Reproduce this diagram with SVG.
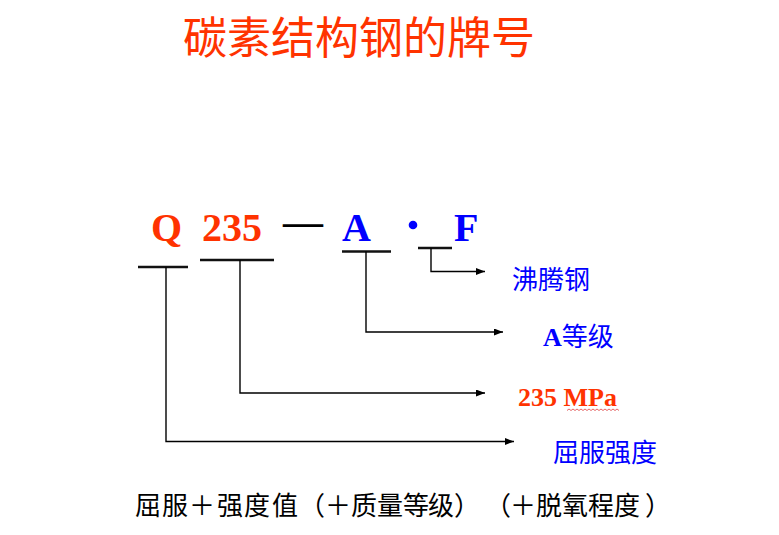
<svg xmlns="http://www.w3.org/2000/svg" width="779" height="535" viewBox="0 0 779 535">
  <defs>
    <marker id="arrow" markerUnits="userSpaceOnUse" markerWidth="9" markerHeight="7" refX="9" refY="3.5" orient="auto">
      <path d="M0,0 L9,3.5 L0,7 z" fill="#000"/>
    </marker>
    <style>
      .cjk { font-family: "Noto Sans CJK SC", "Noto Sans", sans-serif; }
      .ser { font-family: "Liberation Serif", "Noto Sans CJK SC", serif; font-weight: bold; }
      .red { fill: #FF3300; }
      .blue { fill: #0000FF; }
      .bar { stroke: #111; stroke-width: 2.6; fill: none; }
      .conn { stroke: #000; stroke-width: 1.4; fill: none; marker-end: url(#arrow); }
      .f { font-size: 26px; fill: #000; }
    </style>
  </defs>
  <rect width="779" height="535" fill="#fff"/>

  <g id="title">
    <text class="cjk red" x="183" y="54" font-size="44" textLength="352" lengthAdjust="spacing">碳素结构钢的牌号</text>
  </g>

  <g id="code">
    <text class="ser red" x="151" y="241" font-size="40">Q</text>
    <text class="ser red" x="202" y="241" font-size="40">235</text>
    <text class="ser" x="283" y="235" font-size="40" fill="#000">—</text>
    <text class="ser blue" x="342" y="241" font-size="40">A</text>
    <circle cx="413" cy="225" r="4.3" fill="#0000FF"/>
    <text class="ser blue" x="454" y="241" font-size="40">F</text>
  </g>

  <g id="bars">
    <line class="bar" x1="138" y1="267" x2="188" y2="267"/>
    <line class="bar" x1="200" y1="260" x2="274" y2="260"/>
    <line class="bar" x1="342" y1="251.5" x2="391" y2="251.5"/>
    <line class="bar" x1="418" y1="248" x2="452" y2="248"/>
  </g>

  <g id="connectors">
    <path class="conn" d="M431,248 V271.5 H485"/>
    <path class="conn" d="M366,251.5 V332 H503"/>
    <path class="conn" d="M240,260 V393 H485"/>
    <path class="conn" d="M166,267 V441.5 H514"/>
  </g>

  <g id="label-boiling">
    <text class="cjk blue" x="512" y="289" font-size="26">沸腾钢</text>
  </g>
  <g id="label-grade">
    <text class="blue" x="543" y="346" font-size="26"><tspan class="ser">A</tspan><tspan class="cjk">等级</tspan></text>
  </g>
  <g id="label-mpa">
    <text class="ser red" x="518" y="406" font-size="26">235 MPa</text>
    <path d="M567,410.5 l2,-1.5 l2,1.5 l2,-1.5 l2,1.5 l2,-1.5 l2,1.5 l2,-1.5 l2,1.5 l2,-1.5 l2,1.5 l2,-1.5 l2,1.5 l2,-1.5 l2,1.5 l2,-1.5 l2,1.5 l2,-1.5 l2,1.5 l2,-1.5 l2,1.5 l2,-1.5 l2,1.5 l2,-1.5 l2,1.5 l2,-1.5 l2,1.5" fill="none" stroke="#E04040" stroke-width="0.8"/>
  </g>
  <g id="label-yield">
    <text class="cjk blue" x="553" y="462" font-size="26">屈服强度</text>
  </g>

  <g id="formula">
    <text class="cjk f" y="515" x="135 162 189 217 244 272">屈服＋强度值</text>
    <text class="cjk f" y="515" x="299">（</text>
    <text class="cjk f" y="515" x="325 351 377 403 428">＋质量等级</text>
    <text class="cjk f" y="515" x="454">）</text>
    <text class="cjk f" y="515" x="485">（</text>
    <text class="cjk f" y="515" x="510 536 562 588 614">＋脱氧程度</text>
    <text class="cjk f" y="515" x="645">）</text>
  </g>
</svg>
